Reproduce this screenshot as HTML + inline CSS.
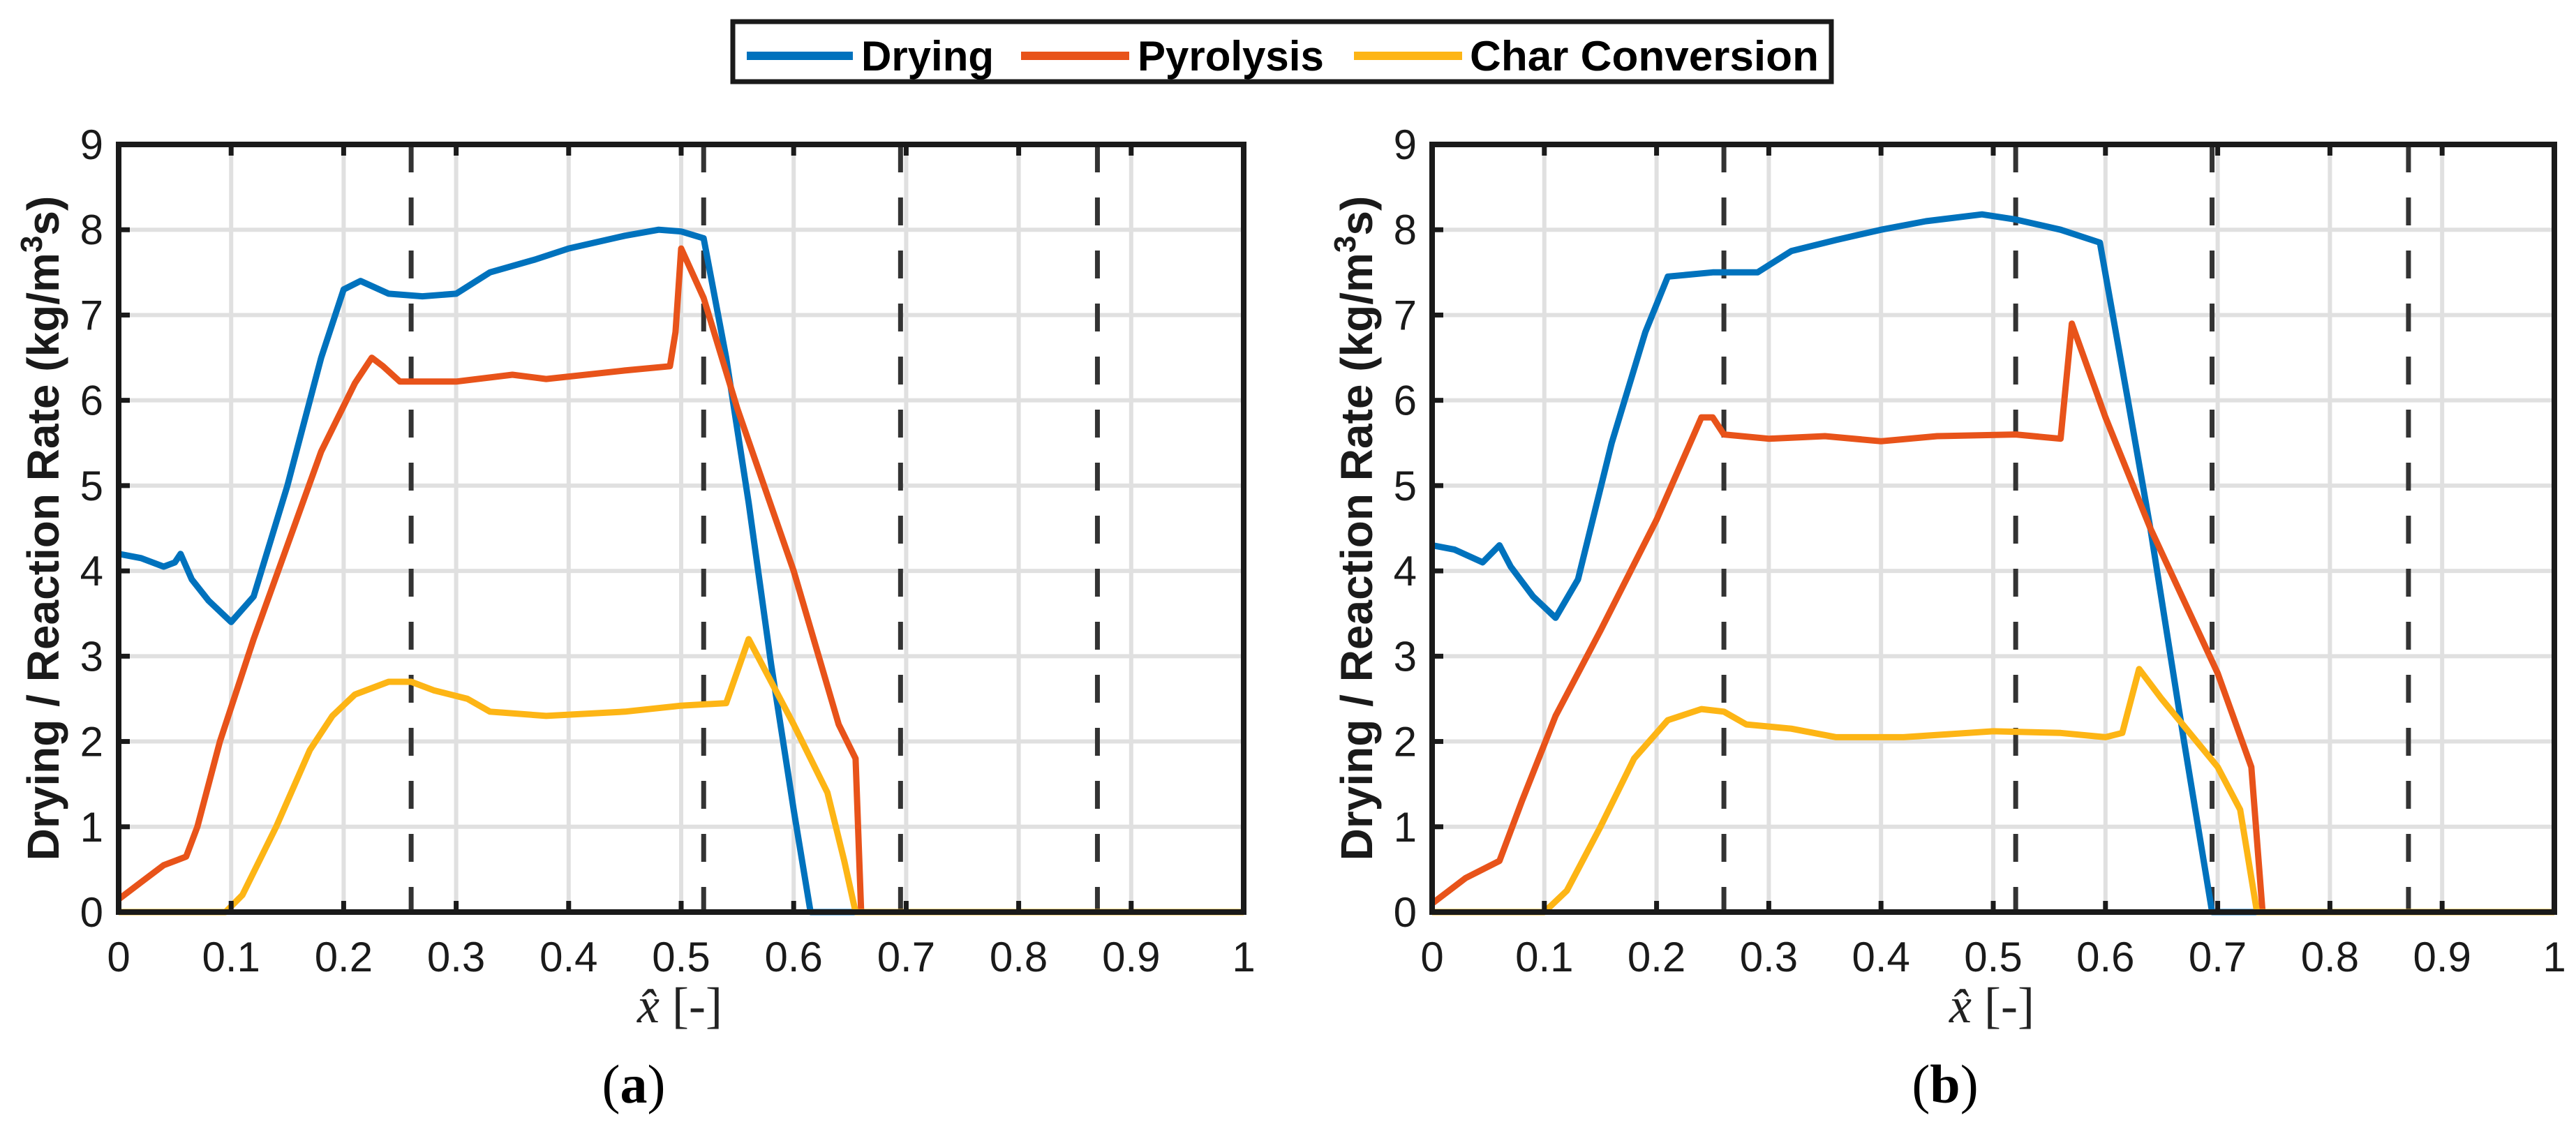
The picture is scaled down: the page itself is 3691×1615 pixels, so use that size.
<!DOCTYPE html>
<html><head><meta charset="utf-8"><style>
html,body{margin:0;padding:0;background:#fff;}
svg{display:block;}
text{font-family:"Liberation Sans",Arial,sans-serif;}
</style></head><body>
<svg id="chart" width="3691" height="1615" viewBox="0 0 3691 1615" xmlns="http://www.w3.org/2000/svg">
<g>
<rect x="1050" y="31" width="1574" height="86" fill="#fff" stroke="#1a1a1a" stroke-width="7"/>
<line x1="1070" y1="80" x2="1222" y2="80" stroke="#0072BD" stroke-width="12"/>
<text x="1234" y="101" font-size="60" font-weight="bold">Drying</text>
<line x1="1463" y1="80" x2="1618" y2="80" stroke="#E8531A" stroke-width="12"/>
<text x="1630" y="101" font-size="60" font-weight="bold">Pyrolysis</text>
<line x1="1940" y1="80" x2="2095" y2="80" stroke="#FDB515" stroke-width="12"/>
<text x="2106" y="101" font-size="60" font-weight="bold" textLength="500" lengthAdjust="spacingAndGlyphs">Char Conversion</text>
</g>
</svg>
<script>
// ---- data (panel a) ----
const xTicks = [0,0.1,0.2,0.3,0.4,0.5,0.6,0.7,0.8,0.9,1];
const xTickLabels = ["0","0.1","0.2","0.3","0.4","0.5","0.6","0.7","0.8","0.9","1"];
const yTicks = [0,1,2,3,4,5,6,7,8,9];
const dashedX = [0.26,0.52,0.695,0.87];
const aDryX = [0,0.02,0.04,0.05,0.055,0.065,0.08,0.1,0.12,0.15,0.18,0.2,0.215,0.24,0.27,0.3,0.33,0.37,0.4,0.45,0.48,0.5,0.52,0.54,0.56,0.58,0.6,0.615,1];
const aDryY = [4.2,4.15,4.05,4.1,4.2,3.9,3.65,3.4,3.7,5.0,6.5,7.3,7.4,7.25,7.22,7.25,7.5,7.65,7.78,7.93,8.0,7.98,7.9,6.5,4.8,2.9,1.2,0,0];
const aPyrX = [0,0.02,0.04,0.06,0.07,0.09,0.12,0.15,0.18,0.21,0.225,0.235,0.25,0.3,0.35,0.38,0.45,0.49,0.495,0.5,0.52,0.55,0.6,0.64,0.655,0.66,1];
const aPyrY = [0.15,0.35,0.55,0.65,1.0,2.0,3.2,4.3,5.4,6.2,6.5,6.4,6.22,6.22,6.3,6.25,6.35,6.4,6.8,7.78,7.2,5.9,4.0,2.2,1.8,0,0];
const aChX = [0,0.095,0.11,0.14,0.17,0.19,0.21,0.24,0.26,0.28,0.31,0.33,0.38,0.45,0.5,0.54,0.56,0.58,0.6,0.63,0.645,0.655,1];
const aChY = [0,0,0.2,1.0,1.9,2.3,2.55,2.7,2.7,2.6,2.5,2.35,2.3,2.35,2.42,2.45,3.2,2.7,2.2,1.4,0.6,0,0];
// ---- data (panel b) ----
const bDryX = [0,0.02,0.045,0.06,0.07,0.09,0.11,0.13,0.16,0.19,0.21,0.25,0.29,0.32,0.36,0.4,0.44,0.49,0.52,0.56,0.595,0.62,0.64,0.67,0.695,1];
const bDryY = [4.3,4.25,4.1,4.3,4.05,3.7,3.45,3.9,5.5,6.8,7.45,7.5,7.5,7.75,7.88,8.0,8.1,8.18,8.12,8.0,7.85,6.0,4.5,2.0,0,0];
const bPyrX = [0,0.03,0.06,0.08,0.11,0.15,0.2,0.24,0.25,0.26,0.3,0.35,0.4,0.45,0.52,0.56,0.57,0.6,0.64,0.7,0.73,0.74,1];
const bPyrY = [0.1,0.4,0.6,1.3,2.3,3.3,4.6,5.8,5.8,5.6,5.55,5.58,5.52,5.58,5.6,5.55,6.9,5.8,4.5,2.8,1.7,0,0];
const bChX = [0,0.1,0.12,0.15,0.18,0.21,0.24,0.26,0.28,0.32,0.36,0.42,0.5,0.56,0.6,0.615,0.63,0.65,0.7,0.72,0.735,1];
const bChY = [0,0,0.25,1.0,1.8,2.25,2.38,2.35,2.2,2.15,2.05,2.05,2.12,2.1,2.05,2.1,2.85,2.5,1.7,1.2,0,0];

const NS = "http://www.w3.org/2000/svg";
const svg = document.getElementById('chart');
function mk(tag, attrs, parent){ const e=document.createElementNS(NS,tag); for(const k in attrs) e.setAttribute(k,attrs[k]); (parent||svg).appendChild(e); return e; }

function panel(id, left, right, top, bottom, series, caption, capX){
  const sx = v => left + v*(right-left);
  const sy = v => bottom - v/9*(bottom-top);
  const g = mk('g',{});
  
  
  xTicks.forEach(t=>{ if(t>0&&t<1){ const l=mk('line',{x1:sx(t),x2:sx(t),y1:top,y2:bottom,stroke:'#e0e0e0','stroke-width':6},g);
      }});
  yTicks.forEach(t=>{ if(t>0&&t<9){ const l=mk('line',{x1:left,x2:right,y1:sy(t),y2:sy(t),stroke:'#e0e0e0','stroke-width':6},g);
      }});
  dashedX.forEach(d=>{ const l=mk('line',{x1:sx(d),x2:sx(d),y1:top,y2:bottom,stroke:'#333','stroke-width':7,'stroke-dasharray':'40 36'},g);
      });
  const cols = ['#0072BD','#E8531A','#FDB515'];
  const names = ['drying-line','pyrolysis-line','char-conversion-line'];
  series.forEach((s,i)=>{
    const pts = s[0].map((x,j)=>sx(x).toFixed(1)+','+sy(s[1][j]).toFixed(1)).join(' ');
    const p = mk('polyline',{points:pts,fill:'none',stroke:cols[i],'stroke-width':9,'stroke-linejoin':'round'},g);
    
    
  });
  const b = mk('rect',{x:left,y:top,width:right-left,height:bottom-top,fill:'none',stroke:'#1a1a1a','stroke-width':8},g);
  
  
  xTicks.forEach((t,i)=>{
    mk('line',{x1:sx(t),x2:sx(t),y1:bottom,y2:bottom-16,stroke:'#1a1a1a','stroke-width':7},g);
    mk('line',{x1:sx(t),x2:sx(t),y1:top,y2:top+16,stroke:'#1a1a1a','stroke-width':7},g);
    const tx = mk('text',{x:sx(t),y:1392,'font-size':60,'text-anchor':'middle',fill:'#1a1a1a'},g);
    tx.textContent = xTickLabels[i];
    
    
  });
  yTicks.forEach(t=>{
    mk('line',{x1:left,x2:left+16,y1:sy(t),y2:sy(t),stroke:'#1a1a1a','stroke-width':7},g);
    const ty = mk('text',{x:left-22,y:sy(t)+21,'font-size':60,'text-anchor':'end',fill:'#1a1a1a'},g);
    ty.textContent = String(t);
    
    
  });
  const yl = mk('text',{x:0,y:0,'font-size':64,'font-weight':'bold','text-anchor':'middle',fill:'#1a1a1a',transform:`translate(${left-86},${(top+bottom)/2}) rotate(-90)`},g);
  yl.innerHTML = 'Drying / Reaction Rate (kg/m<tspan dy="-24" font-size="44">3</tspan><tspan dy="24">s)</tspan>';
  
  
  const xl = mk('text',{x:(left+right)/2-2,y:1465,'font-size':72,'text-anchor':'middle',fill:'#222',style:'font-family:"Liberation Serif",serif'},g);
  xl.innerHTML = '<tspan font-style="italic">x̂</tspan> [-]';
  
  
  const cp = mk('text',{x:capX,y:1580,'font-size':78,'text-anchor':'middle',fill:'#000',style:'font-family:"Liberation Serif",serif'},g);
  cp.innerHTML = '(<tspan font-weight="bold">'+caption+'</tspan>)';
  
  
}
panel('a',170,1782,207,1307,[[aDryX,aDryY],[aPyrX,aPyrY],[aChX,aChY]],'a',908);
panel('b',2052,3660,207,1307,[[bDryX,bDryY],[bPyrX,bPyrY],[bChX,bChY]],'b',2787);
</script>
</body></html>
